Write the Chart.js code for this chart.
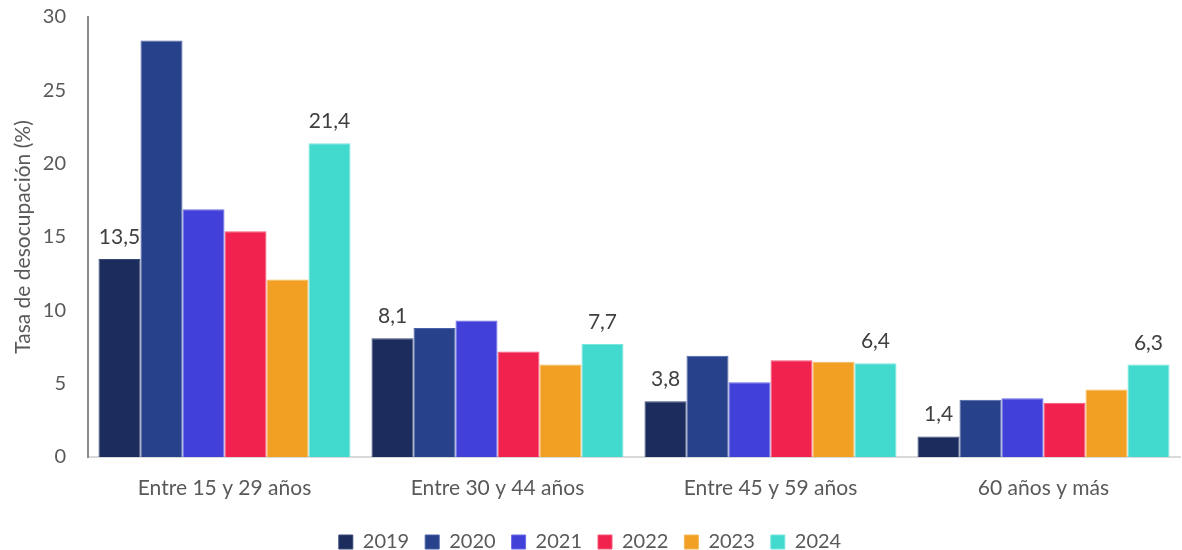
<!DOCTYPE html>
<html>
<head>
<meta charset="utf-8">
<script src="https://cdn.jsdelivr.net/npm/chart.js@4.4.1/dist/chart.umd.min.js"></script>
<style>
html,body{margin:0;padding:0;background:#fff;}
#wrap{width:1182px;height:550px;}
</style>
</head>
<body>
<div id="wrap"><canvas id="c" width="1182" height="550"></canvas></div>
<script>
const categories = ["Entre 15 y 29 años", "Entre 30 y 44 años", "Entre 45 y 59 años", "60 años y más"];
const years = ["2019", "2020", "2021", "2022", "2023", "2024"];
const v2019 = [13.5, 8.1, 3.8, 1.4];
const v2020 = [28.4, 8.8, 6.9, 3.9];
const v2021 = [16.9, 9.3, 5.1, 4.0];
const v2022 = [15.4, 7.2, 6.6, 3.7];
const v2023 = [12.1, 6.3, 6.5, 4.6];
const v2024 = [21.4, 7.7, 6.4, 6.3];
const yTicks = [0, 5, 10, 15, 20, 25, 30];
const labeledSeries = ["2019", "2024"];

const seriesValues = [v2019, v2020, v2021, v2022, v2023, v2024];
const fills = ["#1c2d5d", "#27418a", "#4141d9", "#f2224f", "#f2a024", "#42d9cf"];
const borders = ["#3a4a78", "#4a62a6", "#6a6ae6", "#f55878", "#f5b858", "#7ae5dd"];
const FONT = "Lato, 'Open Sans', sans-serif";
const TXT = "#595959";

const labelPlugin = {
  id: 'barLabels',
  afterDatasetsDraw(chart) {
    const ctx = chart.ctx;
    ctx.save();
    ctx.font = "21px " + FONT;
    ctx.fillStyle = "#404040";
    ctx.textAlign = "center";
    ctx.textBaseline = "alphabetic";
    chart.data.datasets.forEach((ds, i) => {
      if (!labeledSeries.includes(ds.label)) return;
      const meta = chart.getDatasetMeta(i);
      meta.data.forEach((bar, j) => {
        const txt = ds.data[j].toFixed(1).replace('.', ',');
        ctx.fillText(txt, bar.x, bar.y - 15);
      });
    });
    ctx.restore();
  }
};

new Chart(document.getElementById('c'), {
  type: 'bar',
  data: {
    labels: categories,
    datasets: years.map((y, i) => ({
      label: y,
      data: seriesValues[i],
      backgroundColor: fills[i],
      borderColor: borders[i],
      borderWidth: 1,
      categoryPercentage: 0.923,
      barPercentage: 1.0
    }))
  },
  options: {
    responsive: false,
    animation: false,
    devicePixelRatio: 1,
    layout: { padding: { top: 17, right: 2, left: 0, bottom: -12 } },
    plugins: {
      legend: {
        position: 'bottom',
        labels: {
          boxWidth: 14, boxHeight: 14, padding: 16,
          color: TXT,
          font: { family: FONT, size: 20 }
        }
      },
      tooltip: { enabled: false }
    },
    scales: {
      x: {
        afterFit(scale) { scale.height = 59; },
        grid: { display: false },
        border: { display: true, color: "#d9d9d9", width: 2 },
        ticks: { color: TXT, font: { family: FONT, size: 21 }, padding: 11 }
      },
      y: {
        min: 0, max: 30,
        afterBuildTicks(scale) { scale.ticks = yTicks.map(v => ({ value: v })); },
        afterFit(scale) { scale.width = 88; scale.paddingTop = 0; scale.paddingBottom = 0; },
        grid: { display: false },
        border: { display: true, color: "#8c8c8c", width: 2 },
        ticks: { color: TXT, font: { family: FONT, size: 20 }, padding: 14 },
        title: { display: true, text: "Tasa de desocupación (%)", color: TXT, font: { family: FONT, size: 21 }, padding: { top: 11, bottom: 4 } }
      }
    }
  },
  plugins: [labelPlugin]
});
</script>
</body>
</html>
